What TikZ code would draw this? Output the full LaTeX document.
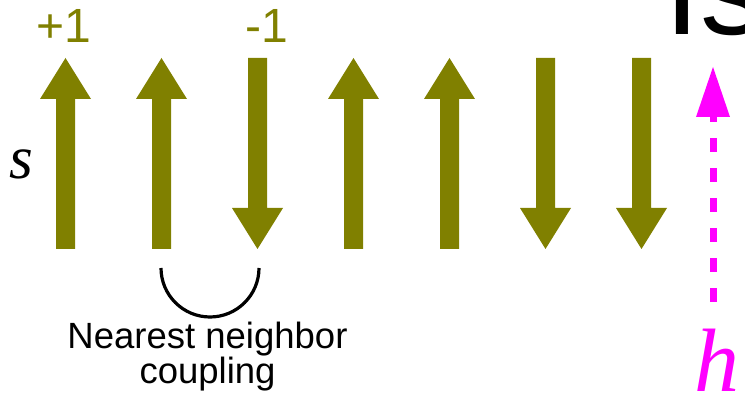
\documentclass[tikz,border=0pt]{standalone}
\usepackage{fontspec}
\setmainfont{Liberation Sans}
\newfontfamily\timesfont{Liberation Serif}
\definecolor{spincol}{RGB}{128,128,0}
\definecolor{fieldcol}{RGB}{255,0,255}
\tikzset{
  spinfill/.style={fill=spincol},
  spinlabel/.style={text=spincol, anchor=base west, inner sep=0pt,
    font=\fontsize{48}{48}\selectfont},
  coupling/.style={draw=black, line width=3.2pt},
  caption/.style={anchor=base, inner sep=0pt, align=center,
    font=\fontsize{36.5}{32}\selectfont},
  fieldline/.style={draw=fieldcol, line width=7pt,
    dash pattern=on 13.3pt off 16.7pt},
  fieldhead/.style={fill=fieldcol},
  varlabel/.style={anchor=base west, inner sep=0pt},
}
\begin{document}
\begin{tikzpicture}[x=1pt, y=-1pt]
  \useasboundingbox (0,0) rectangle (745,406);

  % spin chain: +1 points up, -1 points down
  \foreach \x/\d [count=\i] in {65.5/1,161.5/1,257.5/-1,353.5/1,449.5/1,545.5/-1,641.5/-1}{
    \begin{scope}[shift={(\x,153.5)}, yscale=\d]
      \fill[spinfill] (-9.5,95.5) -- (-9.5,-54.5) -- (-25.5,-54.5) -- (0,-95.5)
        -- (25.5,-54.5) -- (9.5,-54.5) -- (9.5,95.5) -- cycle;
    \end{scope}
    \coordinate (s\i) at (\x,249);
  }

  % spin values
  \node[spinlabel] (plus) at (36,43) {+1};
  \node[spinlabel] (minus) at (245,43) {-1};

  % title, cut at the top edge
  \node[anchor=base west, inner sep=0pt, font=\fontsize{129}{129}\selectfont]
    (title) at (664,35) {Is};

  % spin variable
  \node[varlabel, font=\timesfont\itshape\fontsize{61}{61}\selectfont]
    (svar) at (9,179) {s};

  % nearest-neighbour bond between spins 2 and 3
  \coordinate (cl) at (161,268);
  \coordinate (cm) at (210,317);
  \coordinate (cr) at (259,268);
  \draw[coupling] (cl) .. controls (161,295) and (183,317) .. (cm)
    .. controls (237,317) and (259,295) .. (cr);
  \node[caption] (cap) at (207.5,384) {Nearest neighbor\\coupling};

  % external field h
  \coordinate (htip) at (713,67);
  \coordinate (hstart) at (713,108.3);
  \coordinate (hbot) at (713,305);
  \draw[fieldline] (hstart) -- (hbot);
  \fill[fieldhead] (htip) -- (730,117) -- (696,117) -- cycle;
  \node[varlabel, text=fieldcol, font=\timesfont\itshape\fontsize{90}{90}\selectfont]
    (hvar) at (694,391) {h};
\end{tikzpicture}
\end{document}
